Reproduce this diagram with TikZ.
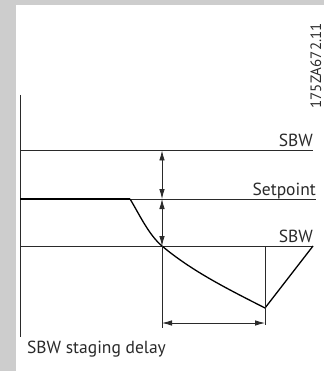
\documentclass[tikz,border=0pt]{standalone}
\usepackage{fontspec}
\setmainfont{PT Sans}
\usepackage{xcolor}
\usepackage{tikz}
\usetikzlibrary{arrows.meta, positioning, calc}

\definecolor{framegray}{HTML}{CDCDCD}
\definecolor{inkgray}{HTML}{2A2A2A}

\begin{document}
\begin{tikzpicture}[x=1pt, y=-1pt, >={Latex[length=10pt,width=5.5pt]}]

\tikzset{
    thinline/.style={line width=0.9pt, draw=inkgray},
    curveline/.style={line width=1.3pt, draw=black},
    dimarrow/.style={<->, line width=0.8pt, draw=inkgray},
    axlabel/.style={font=\fontsize{17.5}{20}\selectfont, text=inkgray, inner sep=0pt}
}

% ── 背景 ──
\fill[framegray] (0,0) rectangle (324,371);
\fill[white] (16,5) rectangle (324,371);
\useasboundingbox (0,0) rectangle (324,371);

% ── 坐标 ──
\coordinate (axTop)  at (20,95);
\coordinate (axBot)  at (20,337);
\coordinate (hiL)    at (20,150.5);
\coordinate (hiR)    at (313,150.5);
\coordinate (spL)    at (20,199);
\coordinate (spR)    at (316,199);
\coordinate (loL)    at (20,246);
\coordinate (loR)    at (313,246);
\coordinate (drop)   at (130,199);
\coordinate (cross)  at (162,246);
\coordinate (valley) at (265,308);
\coordinate (crossB) at (162,328);
\coordinate (valleyB) at (265,325);

% ── 轴与水平线 ──
\draw[thinline] (axTop) -- (axBot);
\draw[thinline] (hiL) -- (hiR);
\draw[thinline] (spL) -- (spR);
\draw[thinline] (loL) -- (loR);

% ── 标签 ──
\node[axlabel, anchor=base east] (lblHi) at (313,147) {SBW};
\node[axlabel, anchor=base east] (lblSp) at (316,195) {Setpoint};
\node[axlabel, anchor=base east] (lblLo) at (313,242) {SBW};
\node[axlabel, anchor=base west] (lblDelay) at (27,353) {SBW staging delay};
\node[font=\fontsize{15}{18}\selectfont, text=inkgray, inner sep=0pt,
      rotate=90, anchor=base east] (lblCode) at (321,23) {175ZA672.11};

% ── 曲线 ──
\draw[line width=2pt, draw=black] (spL) -- (drop);
\draw[curveline] (drop) .. controls (138,211.7) and (148.2,234.4) .. (cross)
                        .. controls (192.6,271.7) and (229.4,289.8) .. (valley)
                        -- (loR);

% ── 尺寸线 ──
\draw[thinline] (cross) -- (crossB);
\draw[thinline] (loR -| valley) -- (valleyB);
\draw[dimarrow] (cross |- hiL) -- (cross |- spL);
\draw[dimarrow] (cross |- spL) -- (cross);
\draw[dimarrow] ($(cross)+(0,77)$) -- ($(valley)+(0,15)$);

\end{tikzpicture}
\end{document}
